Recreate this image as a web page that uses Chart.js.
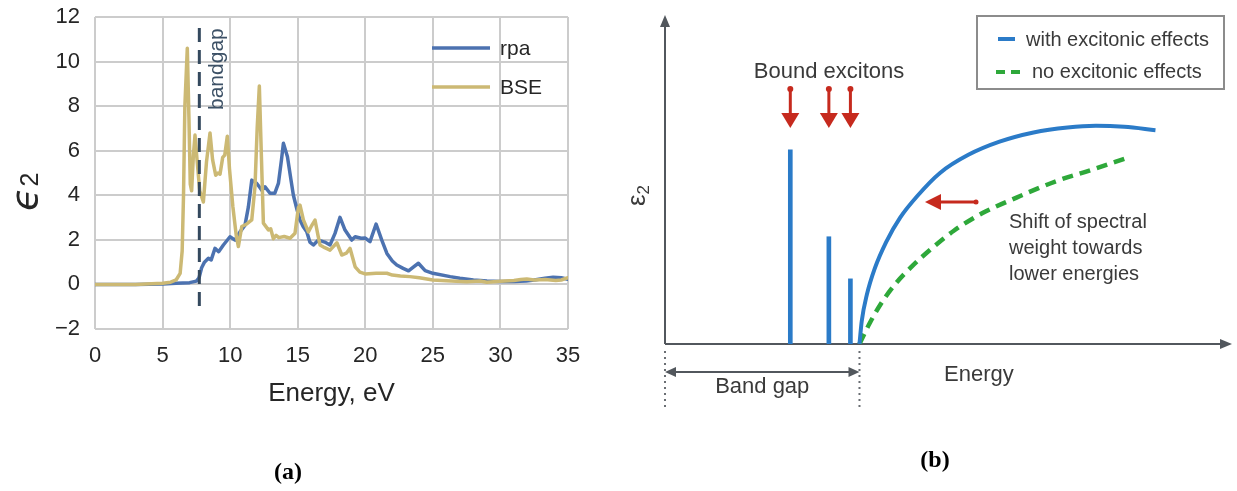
<!DOCTYPE html>
<html>
<head>
<meta charset="utf-8">
<script src="https://cdn.jsdelivr.net/npm/chart.js@4.4.1/dist/chart.umd.min.js"></script>
<style>
  html, body { margin: 0; padding: 0; background: #fff; }
  #wrap { position: relative; width: 1237px; height: 491px; overflow: hidden; }
  #spectrum { position: absolute; left: 0; top: 0; }
  #sketch { position: absolute; left: 620px; top: 0; }
  .caption {
    position: absolute;
    font: bold 24px "Liberation Serif", "Times New Roman", serif;
    line-height: 24px;
    color: #000;
    transform: translateX(-50%);
  }
</style>
</head>
<body>
<div id="wrap">
  <canvas id="spectrum" width="620" height="491"></canvas>
  <canvas id="sketch" width="617" height="491"></canvas>
  <div class="caption" style="left:288px; top:459px">(a)</div>
  <div class="caption" style="left:935px; top:447px">(b)</div>
</div>
<script>
// ---- panel (a): computed spectra ----
const energyTicks = [0, 5, 10, 15, 20, 25, 30, 35];
const epsTicks = [-2, 0, 2, 4, 6, 8, 10, 12];

const rpaEnergy = [0, 3, 5, 6, 7, 7.5, 7.7, 7.89, 8.1, 8.39, 8.6, 8.88, 9.15, 9.5, 9.99, 10.36, 10.73, 11.1, 11.35, 11.6,
  11.97, 12.2, 12.34, 12.58, 12.95, 13.3, 13.57, 13.8, 13.94, 14.24, 14.5, 14.68, 14.95, 15.17, 15.4, 15.67, 15.9, 16.16,
  16.53, 17.0, 17.39, 17.76, 18.13, 18.5, 19.0, 19.25, 19.7, 20.0, 20.35, 20.8, 21.22, 21.6, 22.0, 22.33, 22.8, 23.2,
  23.6, 23.93, 24.43, 25.0, 26.28, 27.0, 28.0, 29.0, 30.0, 31.0, 31.9, 32.5, 33.3, 33.9, 34.5, 35.0];
const rpaEps = [0, 0, 0.02, 0.05, 0.08, 0.15, 0.3, 0.75, 1.0, 1.17, 1.1, 1.62, 1.47, 1.77, 2.14, 1.99, 2.36, 2.66, 3.48, 4.68,
  4.53, 4.35, 4.23, 4.38, 4.09, 4.09, 4.53, 5.6, 6.33, 5.73, 4.7, 4.0, 3.35, 2.89, 2.6, 2.36, 1.9, 1.77,
  1.99, 1.9, 1.77, 2.29, 3.01, 2.44, 1.99, 2.14, 2.07, 2.08, 1.92, 2.71, 1.99, 1.39, 1.05, 0.87, 0.72, 0.61,
  0.8, 0.95, 0.62, 0.5, 0.35, 0.28, 0.2, 0.15, 0.13, 0.13, 0.15, 0.2, 0.28, 0.32, 0.3, 0.23];

const bseEnergy = [0, 3, 5, 5.6, 6.0, 6.3, 6.45, 6.55, 6.65, 6.83, 6.95, 7.05, 7.15, 7.28, 7.4, 7.55, 7.75, 8.02, 8.25, 8.51,
  8.7, 8.93, 9.1, 9.25, 9.45, 9.6, 9.79, 9.95, 10.2, 10.45, 10.61, 10.86, 11.2, 11.6, 11.84, 12.0, 12.16, 12.3, 12.46,
  12.83, 13.0, 13.2, 13.4, 13.6, 14.0, 14.43, 14.8, 15.05, 15.17, 15.42, 15.79, 16.0, 16.28, 16.5, 16.65, 17.0, 17.39,
  17.9, 18.26, 18.6, 18.87, 19.25, 19.6, 19.99, 20.8, 21.6, 22.0, 22.6, 23.3, 24.0, 25.0, 26.0, 27.5, 28.5, 29.0, 30.0,
  31.0, 31.5, 31.95, 32.5, 33.3, 34.1, 34.5, 35.0];
const bseEps = [0, 0, 0.05, 0.1, 0.2, 0.5, 1.5, 4.0, 8.0, 10.6, 7.5, 4.5, 4.2, 5.8, 6.7, 5.6, 4.2, 3.7, 5.5, 6.8,
  5.6, 4.9, 5.0, 4.95, 5.7, 5.8, 6.65, 5.2, 3.5, 2.2, 1.7, 2.6, 2.7, 2.9, 4.4, 7.0, 8.9, 6.0, 2.75,
  2.45, 2.5, 2.05, 2.2, 2.1, 2.15, 2.07, 2.3, 3.45, 3.56, 2.9, 2.36, 2.6, 2.89, 2.2, 1.77, 1.65, 1.54,
  1.87, 1.32, 1.4, 1.62, 0.79, 0.55, 0.47, 0.5, 0.5, 0.42, 0.38, 0.35, 0.3, 0.2, 0.17, 0.12, 0.15, 0.1, 0.14,
  0.18, 0.22, 0.24, 0.2, 0.22, 0.18, 0.2, 0.3];

const bandgapEnergy = 7.72;
const bandgapSpan = [-0.97, 11.55];

const RPA_COLOR = '#4c72b0';
const BSE_COLOR = '#ccb974';
const GAP_COLOR = '#34495e';
const TICK_FONT = { family: '"Liberation Sans", Arial, sans-serif', size: 22 };

function pairs(xs, ys) {
  return xs.map((x, i) => ({ x, y: ys[i] }));
}

// no extra room for overhanging tick labels: the plot box is set by layout padding
function noOverhang(scale) {
  scale.paddingTop = 0;
  scale.paddingBottom = 0;
  scale.paddingLeft = 0;
  scale.paddingRight = 0;
}

const spectrumDecor = {
  id: 'spectrumDecor',
  afterDatasetsDraw(chart) {
    const { ctx, scales: { x } } = chart;
    ctx.save();

    // legend in the upper right corner
    ctx.font = '21px "Liberation Sans", Arial, sans-serif';
    ctx.textBaseline = 'middle';
    ctx.textAlign = 'left';
    const rows = chart.data.datasets.filter((d) => d.label === 'rpa' || d.label === 'BSE');
    rows.forEach((d, i) => {
      const ly = 48 + i * 39;
      ctx.strokeStyle = d.borderColor;
      ctx.lineWidth = 3.5;
      ctx.beginPath();
      ctx.moveTo(432, ly);
      ctx.lineTo(490, ly);
      ctx.stroke();
      ctx.fillStyle = '#262626';
      ctx.fillText(d.label, 500, ly + 1);
    });

    // label next to the gap marker
    const gx = x.getPixelForValue(bandgapEnergy);
    ctx.save();
    ctx.translate(gx + 18, 110);
    ctx.rotate(-Math.PI / 2);
    ctx.fillStyle = '#3d5166';
    ctx.font = '21px "Liberation Sans", Arial, sans-serif';
    ctx.fillText('bandgap', 0, 0);
    ctx.restore();

    // y axis label, epsilon with subscript 2
    ctx.save();
    ctx.translate(37, 211);
    ctx.rotate(-Math.PI / 2);
    ctx.fillStyle = '#262626';
    ctx.textBaseline = 'alphabetic';
    ctx.font = 'italic 38px "DejaVu Sans", sans-serif';
    ctx.fillText('\u03f5', 0, 0);
    const w = ctx.measureText('\u03f5').width;
    ctx.font = '25px "Liberation Sans", Arial, sans-serif';
    ctx.fillText('2', w + 1, 1);
    ctx.restore();

    ctx.restore();
  }
};

const curveStyle = {
  showLine: true,
  borderWidth: 3.5,
  pointRadius: 0,
  borderJoinStyle: 'round',
  borderCapStyle: 'round',
};

new Chart(document.getElementById('spectrum'), {
  type: 'scatter',
  data: {
    datasets: [
      {
        label: 'bandgap',
        data: bandgapSpan.map((v) => ({ x: bandgapEnergy, y: v })),
        showLine: true,
        borderColor: GAP_COLOR,
        borderWidth: 3,
        borderDash: [14, 8],
        pointRadius: 0,
        order: 0,
      },
      { label: 'rpa', data: pairs(rpaEnergy, rpaEps), borderColor: RPA_COLOR, order: 2, ...curveStyle },
      { label: 'BSE', data: pairs(bseEnergy, bseEps), borderColor: BSE_COLOR, order: 1, ...curveStyle },
    ],
  },
  options: {
    responsive: false,
    animation: false,
    devicePixelRatio: 1,
    layout: { padding: { top: 17, right: 52, left: 0, bottom: 0 } },
    plugins: { legend: { display: false }, tooltip: { enabled: false } },
    scales: {
      x: {
        type: 'linear',
        min: 0,
        max: 35,
        afterBuildTicks: (scale) => { scale.ticks = energyTicks.map((v) => ({ value: v })); },
        afterFit: (scale) => { scale.height = 162; noOverhang(scale); },
        grid: { color: '#cccccc', lineWidth: 2, drawTicks: false },
        border: { display: false },
        ticks: { padding: 14, color: '#262626', font: TICK_FONT },
        title: {
          display: true,
          text: 'Energy, eV',
          color: '#262626',
          font: { family: '"Liberation Sans", Arial, sans-serif', size: 26 },
          padding: { top: 0, bottom: 82 },
        },
      },
      y: {
        min: -2,
        max: 12,
        afterBuildTicks: (scale) => { scale.ticks = epsTicks.map((v) => ({ value: v })); },
        afterFit: (scale) => { scale.width = 95; noOverhang(scale); },
        grid: { color: '#cccccc', lineWidth: 2, drawTicks: false },
        border: { display: false },
        ticks: {
          padding: 15,
          color: '#262626',
          font: TICK_FONT,
          callback: (v) => (v < 0 ? '\u2212' + Math.abs(v) : String(v)),
        },
      },
    },
  },
  plugins: [spectrumDecor],
});

// ---- panel (b): excitonic effects sketch ----
const excitonEnergy = [2.21, 2.89, 3.27];
const excitonHeight = [5.9, 3.26, 1.98];
const bandEdge = 3.43;

const withExcEnergy = [3.43, 3.47, 3.56, 3.7, 3.9, 4.15, 4.45, 4.85, 5.35, 5.9, 6.5, 7.1, 7.6, 8.1, 8.65];
const withExcEps = [0, 0.7, 1.5, 2.3, 3.1, 3.85, 4.5, 5.2, 5.75, 6.15, 6.43, 6.58, 6.63, 6.6, 6.5];
const noExcEnergy = [3.43, 3.6, 3.8, 4.05, 4.35, 4.7, 5.1, 5.6, 6.2, 6.9, 7.5, 8.16];
const noExcEps = [0, 0.6, 1.2, 1.8, 2.35, 2.9, 3.45, 3.98, 4.45, 4.95, 5.28, 5.66];

const BLUE = '#2b7bc8';
const GREEN = '#2ea83a';
const RED = '#c62a1e';
const AXIS = '#52575d';
const TEXT = '#3a3a3a';
const SANS = '"Liberation Sans", Arial, sans-serif';

function arrowHead(ctx, tx, ty, dx, dy, len, half) {
  const bx = tx - dx * len;
  const by = ty - dy * len;
  ctx.beginPath();
  ctx.moveTo(tx, ty);
  ctx.lineTo(bx - dy * half, by + dx * half);
  ctx.lineTo(bx + dy * half, by - dx * half);
  ctx.closePath();
  ctx.fill();
}

function segment(ctx, x1, y1, x2, y2) {
  ctx.beginPath();
  ctx.moveTo(x1, y1);
  ctx.lineTo(x2, y2);
  ctx.stroke();
}

const sketchDecor = {
  id: 'sketchDecor',
  beforeDatasetsDraw(chart) {
    const { ctx, chartArea: a } = chart;
    ctx.save();
    ctx.strokeStyle = AXIS;
    ctx.fillStyle = AXIS;
    ctx.lineWidth = 2;
    segment(ctx, a.left, a.bottom, a.left, a.top + 8);
    arrowHead(ctx, a.left, a.top, 0, -1, 12, 5);
    segment(ctx, a.left, a.bottom, a.right - 8, a.bottom);
    arrowHead(ctx, a.right, a.bottom, 1, 0, 12, 5);
    ctx.restore();
  },
  afterDatasetsDraw(chart) {
    const { ctx, chartArea: a, scales: { x } } = chart;
    ctx.save();

    // band gap span below the energy axis
    const x0 = x.getPixelForValue(0);
    const xg = x.getPixelForValue(bandEdge);
    ctx.strokeStyle = '#6a6e73';
    ctx.lineWidth = 2;
    ctx.setLineDash([2, 4]);
    segment(ctx, x0, a.bottom + 7, x0, 408);
    segment(ctx, xg, a.bottom + 7, xg, 408);
    ctx.setLineDash([]);
    ctx.strokeStyle = AXIS;
    ctx.fillStyle = AXIS;
    segment(ctx, x0 + 8, 372, xg - 8, 372);
    arrowHead(ctx, x0, 372, -1, 0, 11, 5);
    arrowHead(ctx, xg, 372, 1, 0, 11, 5);

    ctx.fillStyle = TEXT;
    ctx.textBaseline = 'alphabetic';
    ctx.textAlign = 'center';
    ctx.font = '22px ' + SANS;
    ctx.fillText('Band gap', (x0 + xg) / 2, 393);
    ctx.textAlign = 'left';
    ctx.fillText('Energy', 324, 381);

    // red markers above the bound exciton peaks
    ctx.textAlign = 'center';
    ctx.fillText('Bound excitons', 209, 78);
    ctx.strokeStyle = RED;
    ctx.fillStyle = RED;
    excitonEnergy.forEach((e) => {
      const px = x.getPixelForValue(e);
      ctx.lineWidth = 3;
      segment(ctx, px, 89, px, 115);
      ctx.beginPath();
      ctx.arc(px, 89, 3, 0, Math.PI * 2);
      ctx.fill();
      arrowHead(ctx, px, 128, 0, 1, 15, 9);
    });

    // spectral weight shift
    ctx.lineWidth = 3;
    segment(ctx, 356, 202, 318, 202);
    ctx.beginPath();
    ctx.arc(356, 202, 2.5, 0, Math.PI * 2);
    ctx.fill();
    arrowHead(ctx, 305, 202, -1, 0, 16, 8);
    ctx.fillStyle = TEXT;
    ctx.textAlign = 'left';
    ctx.font = '20px ' + SANS;
    ctx.fillText('Shift of spectral', 389, 228);
    ctx.fillText('weight towards', 389, 254);
    ctx.fillText('lower energies', 389, 280);

    // y axis label
    ctx.save();
    ctx.translate(25, 206);
    ctx.rotate(-Math.PI / 2);
    ctx.font = '26px ' + SANS;
    ctx.fillText('\u03b5', 0, 0);
    const w = ctx.measureText('\u03b5').width;
    ctx.font = '17px ' + SANS;
    ctx.fillText('2', w, 4);
    ctx.restore();

    // legend box
    ctx.strokeStyle = '#8c8c8c';
    ctx.lineWidth = 2;
    ctx.strokeRect(357, 16, 247, 73);
    ctx.lineWidth = 4;
    ctx.strokeStyle = BLUE;
    segment(ctx, 378, 39, 395, 39);
    ctx.strokeStyle = GREEN;
    ctx.setLineDash([9, 6]);
    segment(ctx, 376, 72, 401, 72);
    ctx.setLineDash([]);
    ctx.fillStyle = TEXT;
    ctx.font = '20px ' + SANS;
    ctx.fillText('with excitonic effects', 406, 46);
    ctx.fillText('no excitonic effects', 412, 78);

    ctx.restore();
  }
};

new Chart(document.getElementById('sketch'), {
  type: 'scatter',
  data: {
    datasets: [
      {
        type: 'bar',
        label: 'bound excitons',
        data: pairs(excitonEnergy, excitonHeight),
        backgroundColor: BLUE,
        barThickness: 4,
      },
      {
        label: 'with excitonic effects',
        data: pairs(withExcEnergy, withExcEps),
        showLine: true,
        borderColor: BLUE,
        borderWidth: 4,
        pointRadius: 0,
        cubicInterpolationMode: 'monotone',
      },
      {
        label: 'no excitonic effects',
        data: pairs(noExcEnergy, noExcEps),
        showLine: true,
        borderColor: GREEN,
        borderWidth: 4.5,
        borderDash: [11, 7],
        pointRadius: 0,
        cubicInterpolationMode: 'monotone',
      },
    ],
  },
  options: {
    responsive: false,
    animation: false,
    devicePixelRatio: 1,
    layout: { padding: { left: 45, right: 5, top: 15, bottom: 147 } },
    plugins: { legend: { display: false }, tooltip: { enabled: false } },
    scales: {
      x: { type: 'linear', min: 0, max: 10, offset: false, display: false },
      y: { type: 'linear', min: 0, max: 10, display: false },
    },
  },
  plugins: [sketchDecor],
});
</script>
</body>
</html>
